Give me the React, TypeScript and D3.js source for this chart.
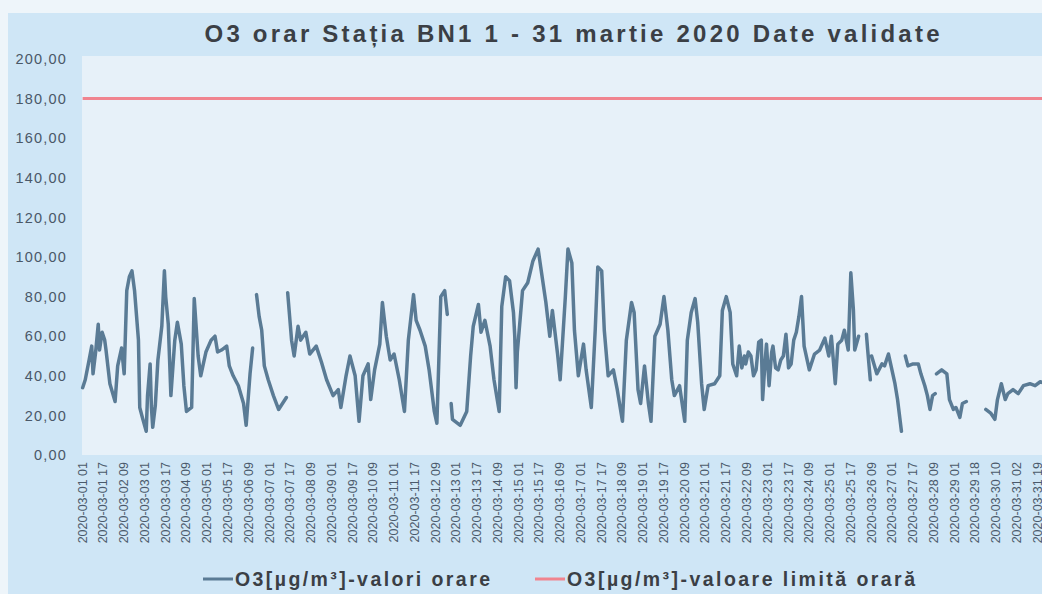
import React from 'react';
import * as d3 from 'd3';

// hour offsets from 2020-03-01 01:00 (DST skip on 29 March -> 743 hours)
const hourOffsets: number[] = [
  0, 2, 5, 7, 8, 10, 12, 13, 15, 17, 18, 21, 25, 27, 30, 32, 34, 36, 38, 40, 43, 44, 46, 49, 50, 52, 53, 54, 56, 58,
  61, 63, 64, 66, 68, 71, 73, 76, 78, 80, 84, 86, 89, 91, 93, 95, 99, 102, 104, 107, 111, 113, 116, 120, 124, 126, 129, 131,
  132,
  134, 136, 138, 140, 143, 147, 151, 154, 157,
  157.5,
  158, 161, 163, 166, 168, 172, 175, 180, 184, 188, 193, 197, 199, 203, 206, 210, 213, 216, 220, 222, 225, 229, 231, 234,
  237, 240, 244, 248, 251, 255, 257, 260, 264, 267, 271, 273, 276, 279, 281,
  282,
  284, 285, 291, 296, 299, 301, 305, 307, 310, 314, 317, 321, 323, 326, 329, 332, 333, 334, 335, 339, 343, 347, 351, 353,
  357, 360, 362, 366, 368, 372, 374, 377, 379, 382, 386, 388, 392, 395, 397, 400, 402, 405, 409, 412, 416, 419, 423, 425,
  428, 430, 433, 436, 438, 441, 445, 448, 451, 454, 456, 460, 464, 466, 469, 472, 474, 477, 479, 482, 487, 491, 493, 496,
  499, 501, 504, 506, 508, 510, 511, 513, 515, 517, 519, 521, 523, 524, 526, 527, 529, 531, 532, 534, 536, 538, 540, 542,
  544, 546, 548, 550, 552, 554, 556, 560, 564, 568, 572, 575,
  577, 580, 582, 585, 587, 590, 592, 594, 595, 598,
  600,
  604, 605, 607,
  607.5,
  608, 612, 616, 618, 621, 623, 626, 628, 631,
  632,
  634, 636, 640, 644, 646, 649, 651, 653, 655, 657,
  657.5,
  658, 662, 666, 668, 671, 673, 676, 678, 681,
  690,
  696, 700, 703, 705, 708, 711, 713, 717, 721, 725, 730, 734, 738, 742,
];

// O3 µg/m³ (null = missing data)
const o3Hourly: (number | null)[] = [
  34, 38, 48, 55, 41, 52, 66, 53, 62, 58, 53, 36, 27, 45, 54, 41, 83, 90, 93, 83, 58, 24, 19, 12, 30, 46, 24, 14, 25, 48,
  65, 93, 80, 66, 30, 58, 67, 56, 35, 22, 24, 79, 50, 40, 46, 52, 58, 60, 52, 53, 55, 45, 40, 35, 26, 15, 41, 54,
  null,
  81, 70, 63, 45, 38, 30, 23, 26, 29,
  null,
  82, 58, 50, 65, 58, 62, 51, 55, 47, 38, 30, 33, 24, 40, 50, 40, 17, 40, 46, 28, 43, 56, 77, 60,
  48, 51, 38, 22, 58, 81, 68, 63, 55, 43, 22, 16, 80, 83, 71,
  null,
  26, 18, 15, 22, 50, 65, 76, 62, 68, 55, 38, 22, 75, 90, 88, 72, 60, 34, 52, 83, 87, 98, 104, 95,
  77, 60, 73, 51, 38, 80, 104, 97, 63, 40, 56, 43, 24, 63, 95, 93, 63, 40, 43, 33, 17, 58, 77, 72,
  33, 26, 45, 26, 17, 60, 66, 80, 63, 38, 30, 35, 17, 58, 72, 79, 67, 36, 23, 35, 36, 40, 73, 80,
  72, 46, 40, 55, 44, 50, 46, 52, 50, 40, 43, 57, 58, 28, 48, 56, 35, 52, 55, 44, 43, 48, 50, 61,
  44, 46, 58, 62, 70, 80, 55, 43, 51, 53, 59, 50,
  60, 36, 56, 58, 63, 53, 92, 73, 53, 60,
  null,
  61, 53, 38,
  null,
  50, 41, 46, 45, 51, 45, 36, 28, 12,
  null,
  50, 45, 46, 46, 41, 35, 30, 23, 30, 31,
  null,
  41, 43, 41, 28, 23, 24, 19, 26, 27,
  null,
  23, 21, 18, 28, 36, 28, 31, 33, 31, 35, 36, 35, 37, 36,
];

const hourCount = 743;
const limitValue = 180;
const yTicks = [0, 20, 40, 60, 80, 100, 120, 140, 160, 180, 200];

const xLabels = [
  '2020-03-01 01', '2020-03-01 17', '2020-03-02 09', '2020-03-03 01', '2020-03-03 17', '2020-03-04 09',
  '2020-03-05 01', '2020-03-05 17', '2020-03-06 09', '2020-03-07 01', '2020-03-07 17', '2020-03-08 09',
  '2020-03-09 01', '2020-03-09 17', '2020-03-10 09', '2020-03-11 01', '2020-03-11 17', '2020-03-12 09',
  '2020-03-13 01', '2020-03-13 17', '2020-03-14 09', '2020-03-15 01', '2020-03-15 17', '2020-03-16 09',
  '2020-03-17 01', '2020-03-17 17', '2020-03-18 09', '2020-03-19 01', '2020-03-19 17', '2020-03-20 09',
  '2020-03-21 01', '2020-03-21 17', '2020-03-22 09', '2020-03-23 01', '2020-03-23 17', '2020-03-24 09',
  '2020-03-25 01', '2020-03-25 17', '2020-03-26 09', '2020-03-27 01', '2020-03-27 17', '2020-03-28 09',
  '2020-03-29 01', '2020-03-29 18', '2020-03-30 10', '2020-03-31 02', '2020-03-31 19',
];
const labelStep = 16;

const seriesName = 'O3[µg/m³]-valori orare';
const limitName = 'O3[µg/m³]-valoare limită orară';

const W = 1042;
const H = 594;
const plot = { left: 82, top: 56, bottom: 455, hourPx: 1.2976 };
const font = '"Liberation Sans", Arial, sans-serif';

const App: React.FC = () => {
  const x = d3.scaleLinear()
    .domain([0, hourCount - 1])
    .range([plot.left + 0.65, plot.left + 0.65 + (hourCount - 1) * plot.hourPx]);
  const y = d3.scaleLinear().domain([0, 200]).range([455, 59]);

  const pts = hourOffsets.map((h, i) => ({ h, v: o3Hourly[i] }));
  const line = d3.line<{ h: number; v: number | null }>()
    .defined(d => d.v != null)
    .x(d => x(d.h))
    .y(d => y(d.v as number));

  const fmt = (v: number) => d3.format('.2f')(v).replace('.', ',');

  return (
    <svg width={W} height={H} style={{ position: 'absolute', left: 0, top: 0 }}>
      <rect x={0} y={0} width={W} height={H} fill="#eef5fa" />
      <rect x={8} y={13} width={W - 8} height={H - 13} fill="#cfe6f6" />
      <rect x={plot.left} y={plot.top} width={W - plot.left} height={plot.bottom - plot.top} fill="#e7f1f9" />

      {/* title */}
      <text x={572} y={42} textAnchor="middle" fontFamily={font} fontWeight="bold" fontSize={24}
        fill="#3b3f45" textLength={735} lengthAdjust="spacing">
        O3 orar Stația BN1 1 - 31 martie 2020 Date validate
      </text>

      {/* y axis labels */}
      {yTicks.map(t => (
        <text key={t} x={67} y={y(t)} dy="0.36em" textAnchor="end" fontFamily={font} fontSize={14.5}
          letterSpacing={1.2} fill="#4a5868">
          {fmt(t)}
        </text>
      ))}

      {/* x axis labels */}
      {xLabels.map((lab, k) => (
        <text key={lab} transform={`translate(${x(k * labelStep) + 4},462) rotate(-90)`}
          textAnchor="end" fontFamily={font} fontSize={12.5} fill="#4b5a6b">
          {lab}
        </text>
      ))}

      {/* limit line */}
      <line x1={x(0)} x2={x(hourCount - 1)} y1={y(limitValue)} y2={y(limitValue)}
        stroke="#f0848f" strokeWidth={3} />

      {/* hourly O3 */}
      <path d={line(pts) ?? ''} fill="none" stroke="#5a7b95" strokeWidth={3.5}
        strokeLinejoin="round" strokeLinecap="round" />

      {/* legend */}
      <line x1={203} x2={233} y1={579} y2={579} stroke="#5a7b95" strokeWidth={3} />
      <text x={235} y={586} fontFamily={font} fontWeight="bold" fontSize={19.5} fill="#3b3f45"
        textLength={255} lengthAdjust="spacing">{seriesName}</text>
      <line x1={535} x2={565} y1={579} y2={579} stroke="#f0848f" strokeWidth={3} />
      <text x={567} y={586} fontFamily={font} fontWeight="bold" fontSize={19.5} fill="#3b3f45"
        textLength={348} lengthAdjust="spacing">{limitName}</text>
    </svg>
  );
};

export default App;
